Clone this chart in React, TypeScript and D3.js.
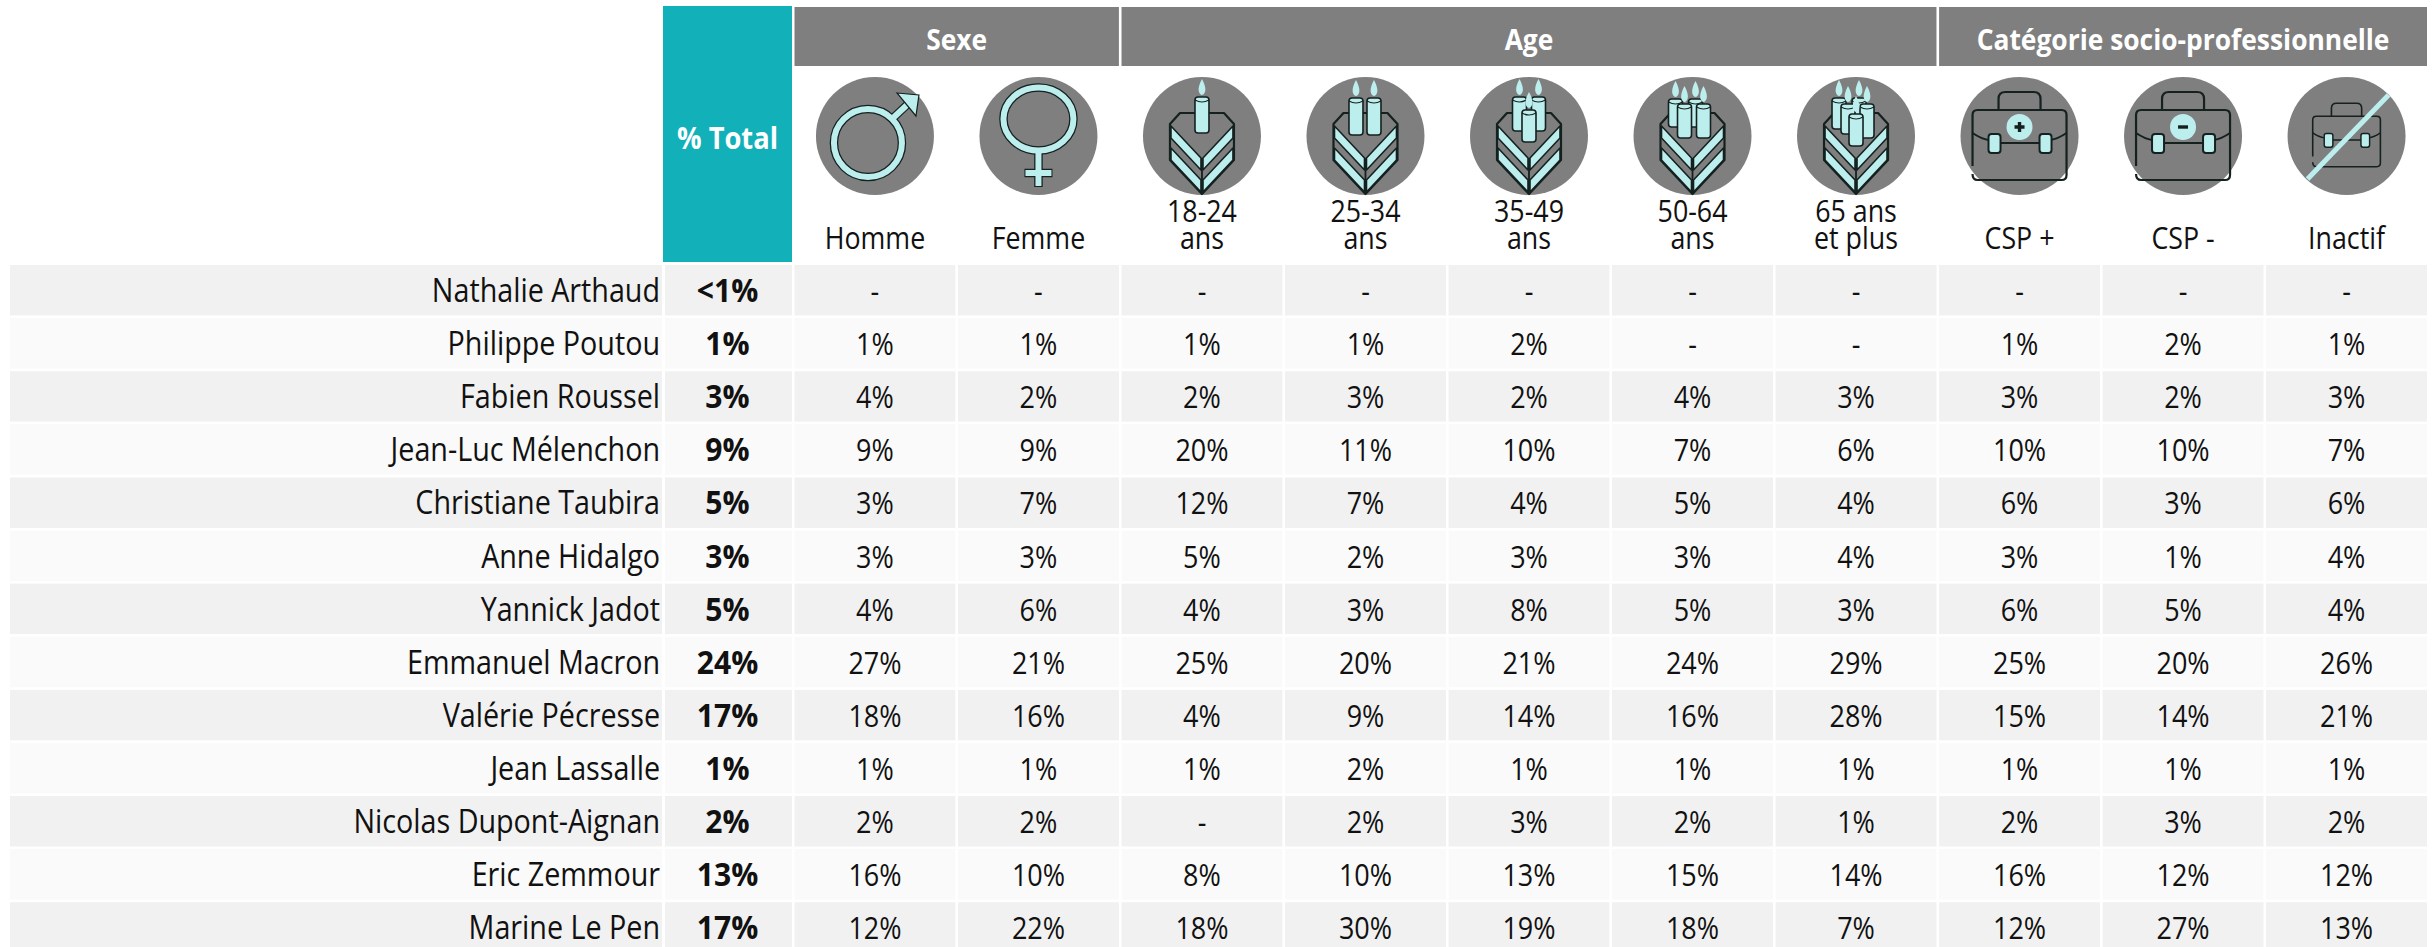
import React from 'react'
import * as d3 from 'd3'

const candidates = ['Nathalie Arthaud', 'Philippe Poutou', 'Fabien Roussel', 'Jean-Luc Mélenchon', 'Christiane Taubira', 'Anne Hidalgo', 'Yannick Jadot', 'Emmanuel Macron', 'Valérie Pécresse', 'Jean Lassalle', 'Nicolas Dupont-Aignan', 'Eric Zemmour', 'Marine Le Pen']
const total = ['<1%', '1%', '3%', '9%', '5%', '3%', '5%', '24%', '17%', '1%', '2%', '13%', '17%']

// null = "-" in the table
const homme = [null, 1, 4, 9, 3, 3, 4, 27, 18, 1, 2, 16, 12]
const femme = [null, 1, 2, 9, 7, 3, 6, 21, 16, 1, 2, 10, 22]
const age1824 = [null, 1, 2, 20, 12, 5, 4, 25, 4, 1, null, 8, 18]
const age2534 = [null, 1, 3, 11, 7, 2, 3, 20, 9, 2, 2, 10, 30]
const age3549 = [null, 2, 2, 10, 4, 3, 8, 21, 14, 1, 3, 13, 19]
const age5064 = [null, null, 4, 7, 5, 3, 5, 24, 16, 1, 2, 15, 18]
const age65 = [null, null, 3, 6, 4, 4, 3, 29, 28, 1, 1, 14, 7]
const cspPlus = [null, 1, 3, 10, 6, 3, 6, 25, 15, 1, 2, 16, 12]
const cspMoins = [null, 2, 2, 10, 3, 1, 5, 20, 14, 1, 3, 12, 27]
const inactif = [null, 1, 3, 7, 6, 4, 4, 26, 21, 1, 2, 12, 13]

const columns = [
  { key: 'homme', label: ['Homme'], values: homme, icon: 'male' },
  { key: 'femme', label: ['Femme'], values: femme, icon: 'female' },
  { key: 'a1', label: ['18-24', 'ans'], values: age1824, icon: 'cake1' },
  { key: 'a2', label: ['25-34', 'ans'], values: age2534, icon: 'cake2' },
  { key: 'a3', label: ['35-49', 'ans'], values: age3549, icon: 'cake3' },
  { key: 'a4', label: ['50-64', 'ans'], values: age5064, icon: 'cake4' },
  { key: 'a5', label: ['65 ans', 'et plus'], values: age65, icon: 'cake5' },
  { key: 'c1', label: ['CSP +'], values: cspPlus, icon: 'plus' },
  { key: 'c2', label: ['CSP -'], values: cspMoins, icon: 'minus' },
  { key: 'c3', label: ['Inactif'], values: inactif, icon: 'inactive' },
]

const groups = [
  { name: 'Sexe', from: 'homme', to: 'femme' },
  { name: 'Age', from: 'a1', to: 'a5' },
  { name: 'Catégorie socio-professionnelle', from: 'c1', to: 'c3' },
]

const FONT = '"Open Sans", sans-serif'
const GREY = '#7f7f7f'
const TEAL = '#12b0b8'
const ICE = '#bdeeee'
const INK = '#14211f'

// dx, top, bottom of each candle, back to front
const candleSets = {
  cake1: [[0, -39, -3]],
  cake2: [[-9.5, -38, -1], [8.5, -38, -1]],
  cake3: [[-9.5, -39, -5], [9.5, -39, -5], [0, -26, 6]],
  cake4: [[-17, -37, -9], [3, -37, -9], [-8, -32, 2], [11, -32, 2]],
  cake5: [[-17, -38, -7], [3, -38, -7], [-8, -32, -2], [11, -32, 2], [0, -22, 10]],
}

const Label = ({ x, y, size, weight = 400, fill = '#111', anchor = 'middle', squeeze = 0.87, children }: any) => (
  <text
    transform={`translate(${x},${y}) scale(${squeeze},1)`}
    textAnchor={anchor}
    fontFamily={FONT}
    fontSize={size}
    fontWeight={weight}
    fill={fill}
  >
    {children}
  </text>
)

const Cake = ({ candles }: any) => (
  <g stroke={INK} strokeLinejoin="round">
    <path d="M-32,-12 L-22,-23 L22,-23 L32,-12 L32,24 L0,58 L-32,24 Z" fill="none" strokeWidth={2.2} />
    <path d="M-31,-10 L-1,22 L-1,34 L-31,2 Z M31,-10 L1,22 L1,34 L31,2 Z" fill={ICE} strokeWidth={1.6} />
    <path d="M-31,12 L-1,44 L-1,56 L-31,24 Z M31,12 L1,44 L1,56 L31,24 Z" fill={ICE} strokeWidth={1.6} />
    <path d="M0,22 L0,58" strokeWidth={1.8} fill="none" />
    {candles.map(([dx, top, bottom]: number[], i: number) => (
      <g key={i}>
        <path d={`M${dx},${top - 18} C${dx + 5},${top - 9} ${dx + 4},${top - 3} ${dx},${top - 2} C${dx - 4},${top - 3} ${dx - 5},${top - 9} ${dx},${top - 18} Z`} fill={ICE} stroke="none" />
        <rect x={dx - 7} y={top} width={14} height={bottom - top} rx={3} fill={ICE} strokeWidth={1.6} />
        <path d={`M${dx - 7},${top + 3} Q${dx},${top + 7} ${dx + 7},${top + 3}`} fill="none" strokeWidth={1.2} />
      </g>
    ))}
  </g>
)

const Briefcase = ({ badge }: any) => (
  <g stroke={INK} fill="none" strokeLinejoin="round">
    <path d="M-21,-26 L-21,-37 Q-21,-44 -14,-44 L14,-44 Q21,-44 21,-37 L21,-26" strokeWidth={2.2} />
    <path d="M-47,30 L-47,-21 Q-47,-26 -42,-26 L42,-26 Q47,-26 47,-21 L47,39 Q47,44 42,44 L-42,44 Q-47,44 -47,38" strokeWidth={2.2} />
    <path d="M-47,-3 Q-38,3 -31,4 M31,4 Q38,3 47,-3 M-19,7 L20,7" strokeWidth={2} />
    <rect x={-31} y={-2} width={12} height={19} rx={3} fill={ICE} strokeWidth={2} />
    <rect x={20} y={-2} width={12} height={19} rx={3} fill={ICE} strokeWidth={2} />
    {badge && <circle cy={-9} r={13} fill={ICE} stroke="none" />}
    {badge && <path d={badge === 'plus' ? 'M-5,-9 L5,-9 M0,-14 L0,-4' : 'M-5,-9 L5,-9'} strokeWidth={3.4} stroke={INK} />}
  </g>
)

const Icon = ({ kind }: any) => {
  let glyph = null
  if (kind === 'male') {
    glyph = (
      <g>
        <circle cx={-7} cy={7} r={34} fill="none" stroke={INK} strokeWidth={8.5} />
        <path d="M17,-17 L34,-33" stroke={INK} strokeWidth={8.5} />
        <circle cx={-7} cy={7} r={34} fill="none" stroke={ICE} strokeWidth={6} />
        <path d="M17,-17 L32,-31" stroke={ICE} strokeWidth={6} />
        <path d="M22,-43 L44,-41 L41,-20 Z" fill={ICE} stroke={INK} strokeWidth={1.2} />
      </g>
    )
  } else if (kind === 'female') {
    glyph = (
      <g>
        <ellipse cy={-17} rx={35} ry={31.5} fill="none" stroke={INK} strokeWidth={8.5} />
        <path d="M0,15 L0,51 M-14,37 L14,37" stroke={INK} strokeWidth={8.5} />
        <ellipse cy={-17} rx={35} ry={31.5} fill="none" stroke={ICE} strokeWidth={6} />
        <path d="M0,15 L0,50 M-13,37 L13,37" stroke={ICE} strokeWidth={6} />
      </g>
    )
  } else if (kind.startsWith('cake')) {
    glyph = <Cake candles={candleSets[kind]} />
  } else if (kind === 'inactive') {
    glyph = (
      <g>
        <g transform="translate(0,-1) scale(0.72)"><Briefcase /></g>
        <path d="M-39,43 L42,-41" stroke={ICE} strokeWidth={5} />
      </g>
    )
  } else {
    glyph = <Briefcase badge={kind} />
  }
  return (
    <g>
      <circle r={59} fill={GREY} />
      {glyph}
    </g>
  )
}

export default function App() {
  const x = d3.scaleBand().domain(columns.map(c => c.key)).range([794.5, 2427]).paddingInner(0.016).paddingOuter(0)
  const y = d3.scaleBand().domain(candidates).range([265, 265 + 13 * 52.9]).paddingInner(0.05).paddingOuter(0)
  const fmt = (v: number | null) => (v === null ? '-' : `${d3.format('d')(v)}%`)
  const cx = (key: string) => x(key)! + x.bandwidth() / 2

  return (
    <svg width={2433} height={947} style={{ position: 'absolute', left: 0, top: 0, background: '#fff' }}>
      <rect x={663} y={6} width={129} height={256} fill={TEAL} />
      <Label x={727.5} y={149} size={30} weight={700} fill="#fff" squeeze={0.91}>% Total</Label>

      {groups.map(g => {
        const x0 = x(g.from)!
        const x1 = x(g.to)! + x.bandwidth()
        return (
          <g key={g.name}>
            <rect x={x0} y={7} width={x1 - x0} height={59} fill={GREY} />
            <Label x={(x0 + x1) / 2} y={50} size={29} weight={700} fill="#fff" squeeze={0.91}>{g.name}</Label>
          </g>
        )
      })}

      {columns.map(c => (
        <g key={c.key}>
          <g transform={`translate(${cx(c.key)},136)`}><Icon kind={c.icon} /></g>
          {c.label.map((line, i) => (
            <Label key={line} x={cx(c.key)} y={249 - (c.label.length - 1 - i) * 27} size={31} squeeze={0.865}>{line}</Label>
          ))}
        </g>
      ))}

      {candidates.map((name, r) => {
        const top = y(name)!
        const h = y.bandwidth()
        const fill = r % 2 === 0 ? '#f1f1f1' : '#fafafa'
        return (
          <g key={name}>
            <rect x={10} y={top} width={652} height={h} fill={fill} />
            <rect x={665} y={top} width={127} height={h} fill={fill} />
            <Label x={660} y={top + 37} size={33} anchor="end" squeeze={0.87}>{name}</Label>
            <Label x={727.5} y={top + 37} size={32} weight={700} squeeze={0.94}>{total[r]}</Label>
            {columns.map(c => (
              <g key={c.key}>
                <rect x={x(c.key)} y={top} width={x.bandwidth()} height={h} fill={fill} />
                <Label x={cx(c.key)} y={top + 37} size={31} squeeze={0.87}>{fmt(c.values[r])}</Label>
              </g>
            ))}
          </g>
        )
      })}
    </svg>
  )
}
